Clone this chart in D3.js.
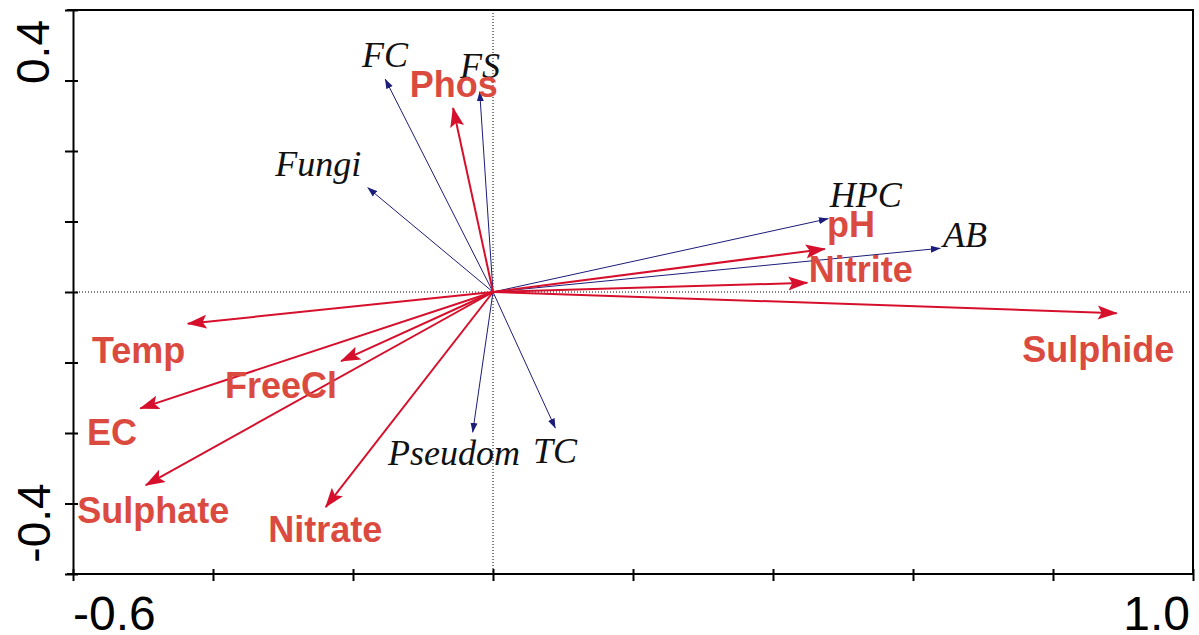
<!DOCTYPE html>
<html><head><meta charset="utf-8">
<script src="https://cdn.jsdelivr.net/npm/d3@7"></script>
<style>html,body{margin:0;padding:0;background:#fff;}svg{display:block;}</style>
</head><body>
<svg id="chart" width="1199" height="635"></svg>
<script>
// Environmental variables (red arrows)
const envNames = ["Phos","pH","Nitrite","Sulphide","Temp","FreeCl","EC","Sulphate","Nitrate"];
const envX = [-0.057, 0.474, 0.449, 0.891, -0.436, -0.217, -0.504, -0.496, -0.239];
const envY = [0.261, 0.061, 0.013, -0.030, -0.045, -0.098, -0.165, -0.274, -0.305];
const envLabelX = [-0.119, 0.477, 0.451, 0.756, -0.573, -0.383, -0.580, -0.594, -0.321];
const envLabelY = [0.277, 0.078, 0.014, -0.099, -0.101, -0.150, -0.217, -0.328, -0.355];
// Species (blue arrows)
const spNames = ["FC","FS","Fungi","HPC","AB","Pseudom","TC"];
const spX = [-0.154, -0.019, -0.179, 0.479, 0.639, -0.029, 0.089];
const spY = [0.302, 0.284, 0.148, 0.104, 0.062, -0.199, -0.193];
const spLabelX = [-0.187, -0.047, -0.311, 0.481, 0.643, -0.150, 0.057];
const spLabelY = [0.319, 0.304, 0.165, 0.121, 0.064, -0.245, -0.243];
// Axes
const xDomain = [-0.6, 1.0];
const yDomain = [-0.4, 0.4];
const xTicks = [-0.6, -0.4, -0.2, 0, 0.2, 0.4, 0.6, 0.8, 1.0];
const yTicks = [-0.4, -0.3, -0.2, -0.1, 0, 0.1, 0.2, 0.3, 0.4];
const xTickLabels = ["-0.6", "1.0"];
const yTickLabels = ["0.4", "-0.4"];

const svg = d3.select("#chart");
const x = d3.scaleLinear().domain(xDomain).range([73, 1193]);
const y = d3.scaleLinear().domain(yDomain).range([574, 10]);

const RED = "#d6102c", LABRED = "#db4a3f", BLUE = "#1c1c7a";

const defs = svg.append("defs");
defs.append("marker").attr("id","hr").attr("markerUnits","userSpaceOnUse")
  .attr("viewBox","0 0 20 16").attr("refX",19).attr("refY",8)
  .attr("markerWidth",20).attr("markerHeight",16).attr("orient","auto")
  .append("path").attr("d","M0,1 L20,8 L0,15 L4,8 Z").attr("fill",RED);
defs.append("marker").attr("id","hb").attr("markerUnits","userSpaceOnUse")
  .attr("viewBox","0 0 10 8").attr("refX",9.5).attr("refY",4)
  .attr("markerWidth",10).attr("markerHeight",8).attr("orient","auto")
  .append("path").attr("d","M0,0.5 L10,4 L0,7.5 Z").attr("fill",BLUE);

// dotted zero lines
svg.append("line").attr("x1",x(0)).attr("x2",x(0)).attr("y1",y(yDomain[1])).attr("y2",y(yDomain[0]))
  .attr("stroke","#000").attr("stroke-width",1).attr("stroke-dasharray","1,2");
svg.append("line").attr("x1",x(xDomain[0])).attr("x2",x(xDomain[1])).attr("y1",y(0)).attr("y2",y(0))
  .attr("stroke","#000").attr("stroke-width",1).attr("stroke-dasharray","1,2");

// axes
const gx = svg.append("g").attr("transform",`translate(0,${y(yDomain[0])})`)
  .call(d3.axisBottom(x).tickValues(xTicks).tickSizeInner(7).tickSizeOuter(0).tickFormat(""));
gx.selectAll(".tick line").attr("y1",-5).attr("stroke-width",2);
gx.select(".domain").attr("d",`M${x(xDomain[0])-6},0H${x(xDomain[1])}`).attr("stroke-width",2);
const gy = svg.append("g").attr("transform",`translate(${x(xDomain[0])},0)`)
  .call(d3.axisLeft(y).tickValues(yTicks).tickSizeInner(8).tickSizeOuter(0).tickFormat(""));
gy.selectAll(".tick line").attr("x1",5).attr("stroke-width",2);
gy.select(".domain").attr("stroke-width",2);
// top & right frame
svg.append("path").attr("d",`M${x(xDomain[0])-6},${y(yDomain[1])}H${x(xDomain[1])}V${y(yDomain[0])}`)
  .attr("fill","none").attr("stroke","#000").attr("stroke-width",2);

// tick labels
svg.append("text").attr("x",x(xDomain[0])).attr("y",630).text(xTickLabels[0])
  .attr("font-family","Liberation Sans, Arial, sans-serif").attr("font-size",48);
svg.append("text").attr("x",x(xDomain[1])-3).attr("y",630).attr("text-anchor","end").text(xTickLabels[1])
  .attr("font-family","Liberation Sans, Arial, sans-serif").attr("font-size",48);
svg.append("text").attr("transform",`translate(49,${y(0.4)+42}) rotate(-90)`).attr("text-anchor","middle").text(yTickLabels[0])
  .attr("font-family","Liberation Sans, Arial, sans-serif").attr("font-size",46);
svg.append("text").attr("transform",`translate(50,${y(-0.4)-51}) rotate(-90)`).attr("text-anchor","middle").text(yTickLabels[1])
  .attr("font-family","Liberation Sans, Arial, sans-serif").attr("font-size",46);

// species arrows
const sp = spNames.map((n,i)=>({n, x:spX[i], y:spY[i], lx:spLabelX[i], ly:spLabelY[i]}));
const env = envNames.map((n,i)=>({n, x:envX[i], y:envY[i], lx:envLabelX[i], ly:envLabelY[i]}));

svg.append("g").selectAll("line").data(sp).join("line")
  .attr("x1",x(0)).attr("y1",y(0)).attr("x2",d=>x(d.x)).attr("y2",d=>y(d.y))
  .attr("stroke",BLUE).attr("stroke-width",1).attr("marker-end","url(#hb)");
svg.append("g").selectAll("line").data(env).join("line")
  .attr("x1",x(0)).attr("y1",y(0)).attr("x2",d=>x(d.x)).attr("y2",d=>y(d.y))
  .attr("stroke",RED).attr("stroke-width",2).attr("marker-end","url(#hr)");

svg.append("g").selectAll("text").data(sp).join("text")
  .attr("x",d=>x(d.lx)).attr("y",d=>y(d.ly)).text(d=>d.n)
  .attr("font-family","Liberation Serif, Times New Roman, serif").attr("font-style","italic")
  .attr("font-size",36).attr("fill","#111");
svg.append("g").selectAll("text").data(env).join("text")
  .attr("x",d=>x(d.lx)).attr("y",d=>y(d.ly)).text(d=>d.n)
  .attr("font-family","Liberation Sans, Arial, sans-serif").attr("font-weight","bold")
  .attr("font-size",36).attr("fill",LABRED);
</script>
</body></html>
